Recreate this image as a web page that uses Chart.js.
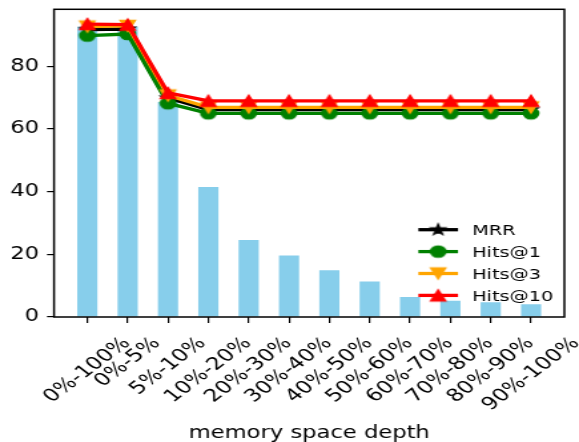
<!DOCTYPE html>
<html>
<head>
<meta charset="UTF-8">
<title>memory space depth</title>
<script src="https://cdn.jsdelivr.net/npm/chart.js"></script>
<style>
  html, body { margin: 0; padding: 0; background: #fff; overflow: hidden; }
  /* the reference is a horizontally stretched figure, so draw narrow and stretch */
  #wrap { width: 435px; height: 442px; transform: scaleX(1.331); transform-origin: 0 0; }
</style>
</head>
<body>
<div id="wrap"><canvas id="c"></canvas></div>
<script>
const depthLabels = ['0%-100%', '0%-5%', '5%-10%', '10%-20%', '20%-30%', '30%-40%',
                     '40%-50%', '50%-60%', '60%-70%', '70%-80%', '80%-90%', '90%-100%'];
const barValues = [92.6, 92.6, 68.6, 41.5, 24.6, 19.6, 14.9, 11.3, 6.4, 5.2, 4.7, 4.1];
const mrr    = [91.7, 91.9, 69.9, 66.2, 66.2, 66.2, 66.2, 66.2, 66.2, 66.2, 66.2, 66.2];
const hits1  = [89.8, 90.3, 68.2, 65.0, 65.0, 65.0, 65.0, 65.0, 65.0, 65.0, 65.0, 65.0];
const hits3  = [92.7, 92.9, 70.7, 66.9, 66.9, 66.9, 66.9, 66.9, 66.9, 66.9, 66.9, 66.9];
const hits10 = [93.5, 93.3, 71.5, 69.0, 69.0, 69.0, 69.0, 69.0, 69.0, 69.0, 69.0, 69.0];
const yTicks = [0, 20, 40, 60, 80];

const FONT = "'DejaVu Sans', sans-serif";
Chart.defaults.font.family = FONT;
Chart.defaults.color = '#000';

// matplotlib style markers as little canvases
function marker(kind, size, color) {
  const n = Math.ceil(size) + 4;
  const c = document.createElement('canvas');
  c.width = n; c.height = n;
  const g = c.getContext('2d');
  const m = n / 2, h = size / 2;
  g.beginPath();
  if (kind === 'up') {
    g.moveTo(m, m - h); g.lineTo(m + h, m + h); g.lineTo(m - h, m + h);
  } else if (kind === 'down') {
    g.moveTo(m, m + h); g.lineTo(m + h, m - h); g.lineTo(m - h, m - h);
  } else if (kind === 'star') {
    for (let k = 0; k < 10; k++) {
      const r = k % 2 ? h * 0.382 : h;
      const a = -Math.PI / 2 + k * Math.PI / 5;
      g.lineTo(m + r * Math.cos(a), m + r * Math.sin(a));
    }
  } else {
    g.arc(m, m, h, 0, Math.PI * 2);
  }
  g.closePath();
  g.fillStyle = color; g.fill();
  g.strokeStyle = color; g.lineWidth = 1.2; g.stroke();
  return c;
}

const MS = 11.5;
const series = [
  { label: 'MRR',     data: mrr,    color: '#000000', img: marker('star', MS, '#000000') },
  { label: 'Hits@1',  data: hits1,  color: '#008000', img: marker('circle', MS, '#008000') },
  { label: 'Hits@3',  data: hits3,  color: '#FFA500', img: marker('down', MS, '#FFA500') },
  { label: 'Hits@10', data: hits10, color: '#FF0000', img: marker('up', MS, '#FF0000') }
];

const xy = arr => arr.map((v, i) => ({ x: i, y: v }));

const datasets = [{
  type: 'bar',
  label: 'count',
  data: xy(barValues),
  backgroundColor: '#87CEEB',
  barPercentage: 0.5,
  categoryPercentage: 1.0,
  order: 10
}];
series.forEach((s, k) => {
  datasets.push({
    type: 'line',
    label: s.label,
    data: xy(s.data),
    borderColor: s.color,
    backgroundColor: s.color,
    borderWidth: 3.3,
    tension: 0,
    fill: false,
    pointStyle: s.img,
    pointRadius: 6,
    order: 4 - k
  });
});

const decor = {
  id: 'decor',
  afterDatasetsDraw(chart) {
    const { ctx, chartArea: a } = chart;
    ctx.save();
    ctx.strokeStyle = '#000';
    ctx.lineWidth = 1.5;
    ctx.strokeRect(a.left, a.top, a.right - a.left, a.bottom - a.top);

    // legend (no frame)
    const rows = [229.7, 251.6, 273.5, 295.4];
    ctx.font = '14.5px ' + FONT;
    ctx.textAlign = 'left';
    ctx.textBaseline = 'alphabetic';
    series.forEach((s, k) => {
      const y = rows[k];
      ctx.strokeStyle = s.color;
      ctx.lineWidth = 3.3;
      ctx.beginPath(); ctx.moveTo(314.3, y); ctx.lineTo(344.1, y); ctx.stroke();
      ctx.drawImage(s.img, 329.2 - s.img.width / 2, y - s.img.height / 2);
      ctx.fillStyle = '#000';
      ctx.fillText(s.label, 354.7, y + 5.3);
    });

    // rotated category labels, centred on their ticks
    const xs = chart.scales.x;
    const fs = 17.5;
    ctx.font = fs + 'px ' + FONT;
    ctx.textAlign = 'center';
    ctx.textBaseline = 'middle';
    depthLabels.forEach((lab, i) => {
      const px = xs.getPixelForValue(i);
      const w = ctx.measureText(lab).width;
      const d = (w + fs * 1.2) / Math.SQRT2;
      ctx.save();
      ctx.translate(px, a.bottom + 16 + d / 2);
      ctx.rotate(-Math.PI / 4);
      ctx.fillText(lab, 0, 0);
      ctx.restore();
    });

    ctx.font = '17px ' + FONT;
    ctx.textBaseline = 'alphabetic';
    ctx.fillText('memory space depth', (a.left + a.right) / 2, 437.5);
    ctx.restore();
  }
};

new Chart(document.getElementById('c'), {
  data: { datasets },
  options: {
    responsive: true,
    maintainAspectRatio: false,
    animation: false,
    events: [],
    layout: { padding: { top: 6, right: 11, left: 0, bottom: 0 } },
    plugins: { legend: { display: false }, tooltip: { enabled: false } },
    scales: {
      x: {
        type: 'linear',
        offset: false,
        min: -0.825,
        max: 11.825,
        ticks: { display: false, stepSize: 1, includeBounds: false },
        grid: { offset: false, drawOnChartArea: false, drawTicks: true, tickLength: 6, color: '#000', lineWidth: 1.2 },
        border: { display: false },
        afterFit: s => { s.height = 125; s.paddingLeft = 0; s.paddingRight = 0; }
      },
      y: {
        min: 0,
        max: 98.2,
        afterBuildTicks: s => { s.ticks = yTicks.map(v => ({ value: v })); },
        ticks: { font: { size: 17 }, padding: 6, color: '#000' },
        grid: { drawOnChartArea: false, drawTicks: true, tickLength: 5.3, color: '#000', lineWidth: 1.2 },
        border: { display: false },
        afterFit: s => { s.width = 40.6; s.paddingTop = 0; s.paddingBottom = 0; }
      }
    }
  },
  plugins: [decor]
});
</script>
</body>
</html>
